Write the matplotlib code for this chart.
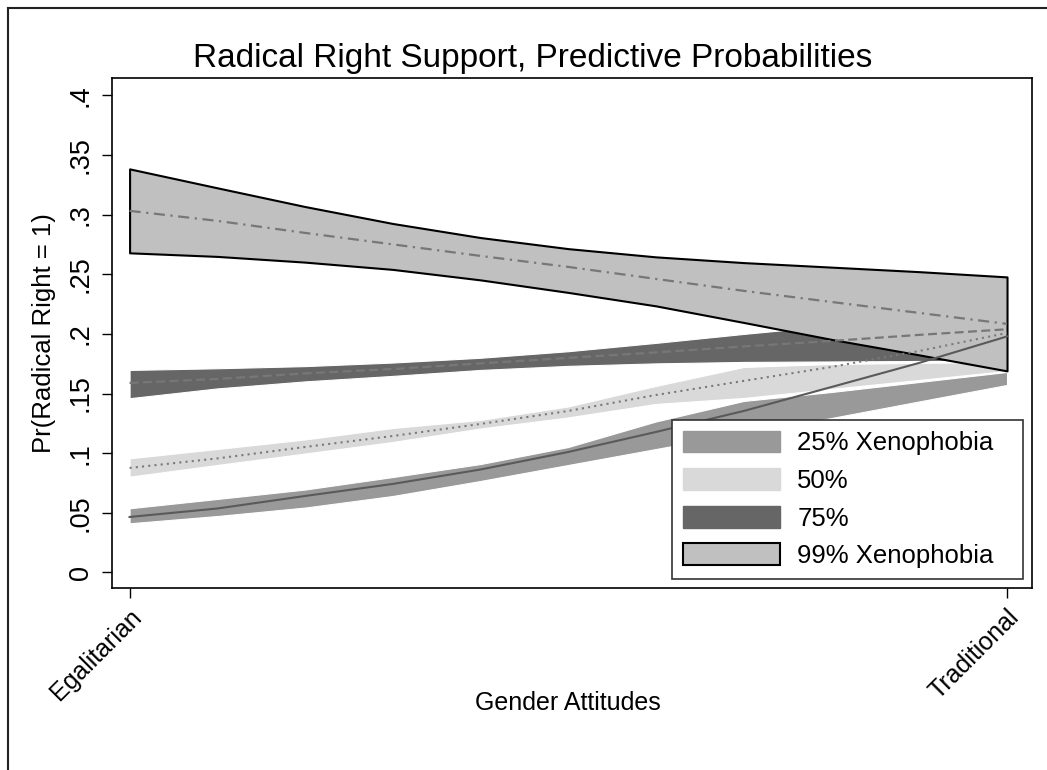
import matplotlib
matplotlib.use("Agg")
import matplotlib.pyplot as plt
from matplotlib.patches import Patch
from matplotlib.lines import Line2D

plt.rcParams['font.family'] = ['Liberation Sans', 'DejaVu Sans']

# gender attitudes scale, 0 = egalitarian, 1 = traditional
gender = [0.0, 0.1, 0.2, 0.3, 0.4, 0.5, 0.6, 0.7, 0.8, 0.9, 1.0]

# predicted probabilities and confidence bounds
p25 = [0.0465, 0.0536, 0.0641, 0.0742, 0.0863, 0.1010, 0.1178, 0.1354, 0.1555, 0.1757, 0.1979]
p25_hi = [0.0538, 0.0616, 0.0695, 0.0800, 0.0909, 0.1052, 0.1266, 0.1438, 0.1513, 0.1597, 0.1681]
p25_lo = [0.0412, 0.0473, 0.0544, 0.0641, 0.0767, 0.0901, 0.1035, 0.1169, 0.1295, 0.1434, 0.1572]

p50 = [0.0876, 0.0956, 0.1052, 0.1144, 0.1245, 0.1354, 0.1488, 0.1606, 0.1723, 0.1857, 0.2008]
p50_hi = [0.0957, 0.1035, 0.1115, 0.1211, 0.1279, 0.1392, 0.1564, 0.1723, 0.1748, 0.1757, 0.1765]
p50_lo = [0.0803, 0.0901, 0.0997, 0.1094, 0.1207, 0.1300, 0.1413, 0.1463, 0.1539, 0.1614, 0.1690]

p75 = [0.1589, 0.1622, 0.1669, 0.1706, 0.1753, 0.1799, 0.1845, 0.1895, 0.1941, 0.1992, 0.2039]
p75_hi = [0.1698, 0.1712, 0.1730, 0.1760, 0.1800, 0.1855, 0.1925, 0.2000, 0.2070, 0.2125, 0.2176]
p75_lo = [0.1461, 0.1543, 0.1602, 0.1648, 0.1698, 0.1732, 0.1753, 0.1765, 0.1769, 0.1773, 0.1773]

p99 = [0.3032, 0.2948, 0.2847, 0.2751, 0.2654, 0.2562, 0.2461, 0.2361, 0.2268, 0.2176, 0.2084]
p99_hi = [0.3384, 0.3225, 0.3068, 0.2926, 0.2808, 0.2715, 0.2646, 0.2598, 0.2560, 0.2522, 0.2478]
p99_lo = [0.2680, 0.2650, 0.2602, 0.2541, 0.2453, 0.2348, 0.2235, 0.2096, 0.1954, 0.1824, 0.1690]

labels = ['25% Xenophobia', '50%', '75%', '99% Xenophobia']
y_ticks = [0, 0.05, 0.1, 0.15, 0.2, 0.25, 0.3, 0.35, 0.4]
y_ticklabels = ['0', '.05', '.1', '.15', '.2', '.25', '.3', '.35', '.4']
x_ticklabels = ['Egalitarian', 'Traditional']

fig = plt.figure(figsize=(10.47, 7.7), dpi=100)
ax = fig.add_axes([0.107, 0.236, 0.8787, 0.6627])

# confidence bands, drawn in the same order as the original
ax.fill_between(gender, p25_lo, p25_hi, facecolor='#999999', edgecolor='white', linewidth=0.8, zorder=1)
ax.fill_between(gender, p50_lo, p50_hi, facecolor='#d9d9d9', edgecolor='white', linewidth=0.8, zorder=2)
ax.fill_between(gender, p75_lo, p75_hi, facecolor='#666666', edgecolor='white', linewidth=0.8, zorder=3)
ax.fill_between(gender, p99_lo, p99_hi, facecolor='#c0c0c0', edgecolor='black', linewidth=1.5, zorder=4)

# point estimates
ax.plot(gender, p25, color='#5a5a5a', linestyle='-', linewidth=1.5, zorder=5)
ax.plot(gender, p50, color='#7a7a7a', linestyle=(0, (1, 2)), linewidth=1.5, zorder=5)
ax.plot(gender, p75, color='#777777', linestyle=(0, (4, 2)), linewidth=1.6, zorder=5)
ax.plot(gender, p99, color='#777777', linestyle=(0, (5, 2.5, 1, 2.5)), linewidth=1.6, zorder=5)

ax.set_xlim(-0.02, 1.0285)
ax.set_ylim(-0.0133, 0.4146)

ax.set_yticks(y_ticks)
ax.set_yticklabels(y_ticklabels, rotation=90, va='center')
ax.set_xticks([0, 1])
ax.set_xticklabels(x_ticklabels, rotation=45, ha='right', va='top', rotation_mode='anchor')
ax.tick_params(axis='both', direction='out', length=7, width=1, pad=6)
ax.tick_params(axis='y', labelsize=19.5)
ax.tick_params(axis='x', labelsize=18, pad=5)

for spine in ax.spines.values():
    spine.set_linewidth(1.2)

ax.set_ylabel('Pr(Radical Right = 1)', fontsize=18.5)
ax.yaxis.set_label_coords(-0.061, 0.5)

fig.text(533 / 1047, 1 - 66.7 / 770, 'Radical Right Support, Predictive Probabilities',
         fontsize=24, ha='center', va='baseline')
fig.text(568 / 1047, 1 - 703 / 770, 'Gender Attitudes', fontsize=18, ha='center', va='center')

handles = [
    Patch(facecolor='#999999', edgecolor='#999999'),
    Patch(facecolor='#d9d9d9', edgecolor='#d9d9d9'),
    Patch(facecolor='#666666', edgecolor='#666666'),
    Patch(facecolor='#c0c0c0', edgecolor='black', linewidth=1.5),
]
leg = ax.legend(handles, labels, loc='lower left', bbox_to_anchor=(0.6087, 0.0182, 0.3815, 0.3155),
                mode='expand', borderaxespad=0, fontsize=18.5, handlelength=3.8, handleheight=0.93,
                handletextpad=0.66, labelspacing=0.5, borderpad=0.42, fancybox=False, framealpha=1)
leg.get_frame().set_edgecolor('#333333')
leg.get_frame().set_linewidth(1.2)
leg.set_zorder(10)

# outer graph border (left and top edges visible in the original)
fig.add_artist(Line2D([7.5 / 1047, 7.5 / 1047], [0, 1 - 8 / 770], color='#222222', linewidth=1.5))
fig.add_artist(Line2D([7.5 / 1047, 1], [1 - 8 / 770, 1 - 8 / 770], color='#222222', linewidth=1.5))

fig.savefig('out.png', dpi=100)
